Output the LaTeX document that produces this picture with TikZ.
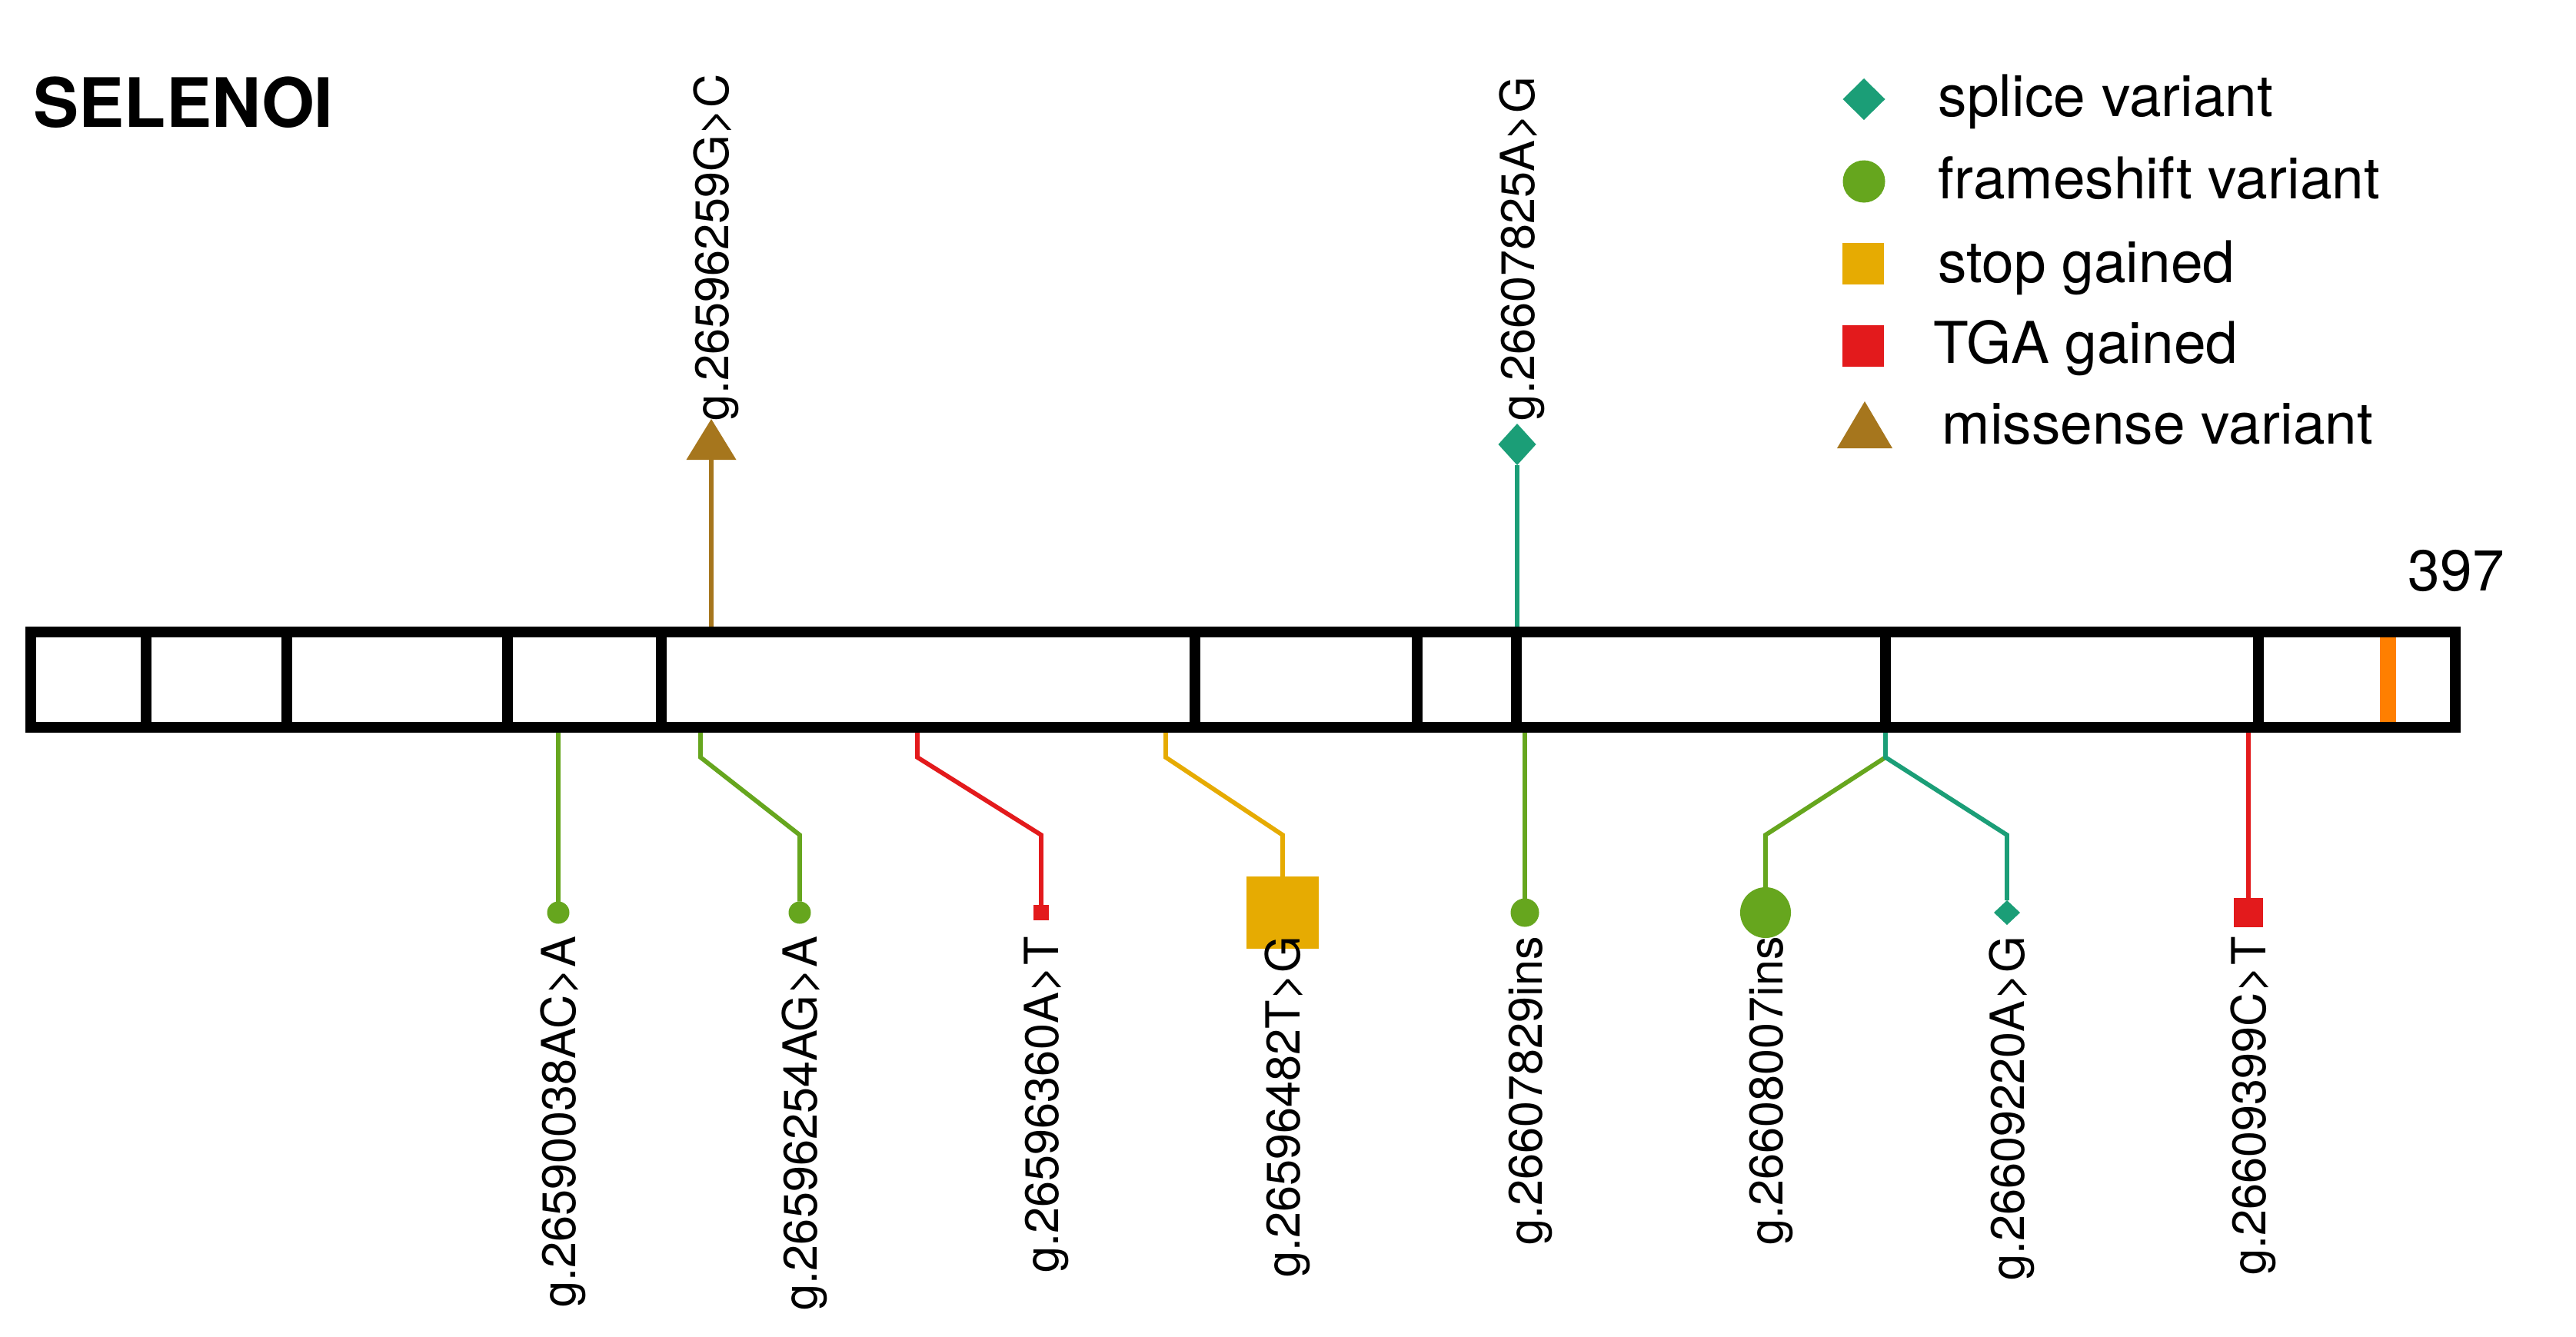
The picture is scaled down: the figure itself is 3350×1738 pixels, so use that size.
\documentclass[tikz,border=0pt]{standalone}
\usepackage{fontspec}
\setmainfont{TeX Gyre Heros}
\usetikzlibrary{shapes.geometric}
\definecolor{splice}{HTML}{1B9E77}
\definecolor{frameshift}{HTML}{66A61E}
\definecolor{stopg}{HTML}{E6AB02}
\definecolor{tga}{HTML}{E31A1C}
\definecolor{missense}{HTML}{A6761D}
\definecolor{domaincol}{HTML}{FF7F00}
\begin{document}
\begin{tikzpicture}[x=0.01cm,y=-0.01cm,
  lbl/.style={rotate=90, inner sep=0pt, outer sep=0pt, font=\fontsize{17.4pt}{20pt}\selectfont},
  toplbl/.style={lbl, anchor=base west},
  botlbl/.style={lbl, anchor=base east},
  legtxt/.style={anchor=base west, inner sep=0pt, font=\fontsize{21.3pt}{25pt}\selectfont},
  stemline/.style={line width=0.058cm},
  dot/.style={circle, inner sep=0pt, outer sep=0pt, fill=frameshift, draw=none},
  sq/.style={rectangle, inner sep=0pt, outer sep=0pt, draw=none},
  dia/.style={diamond, inner sep=0pt, outer sep=0pt, fill=splice, draw=none},
  barline/.style={line width=0.14cm},
]
\useasboundingbox (0,0) rectangle (3350,1738);

% title
\node[anchor=base west, inner sep=0pt, font=\fontsize{25.2pt}{30pt}\selectfont\bfseries] (title) at (43,165) {SELENOI};

% attachment points on bar
\coordinate (t1) at (925,822);
\coordinate (t2) at (1973,822);
\coordinate (b1) at (726,946);
\coordinate (b2) at (911,946);
\coordinate (b3) at (1193,946);
\coordinate (b4) at (1516,946);
\coordinate (b5) at (1983,946);
\coordinate (b6) at (2452,946);
\coordinate (b8) at (2924,946);

% top markers
\coordinate (tri1) at (925,598);
\fill[missense] (892.5,598) -- (957.5,598) -- (925,545) -- cycle;
\node[dia, minimum width=0.49cm, minimum height=0.54cm] (d1) at (1973,578) {};

% bottom markers
\node[dot, minimum size=0.29cm] (m1) at (726,1187) {};
\node[dot, minimum size=0.29cm] (m2) at (1040,1187) {};
\node[sq, fill=tga, minimum size=0.20cm] (m3) at (1354,1187) {};
\node[sq, fill=stopg, minimum size=0.93cm] (m4) at (1668,1187) {};
\node[dot, minimum size=0.37cm] (m5) at (1983,1187) {};
\node[dot, minimum size=0.66cm] (m6) at (2296,1187) {};
\node[dia, minimum width=0.34cm, minimum height=0.32cm] (m7) at (2610,1187) {};
\node[sq, fill=tga, minimum size=0.38cm] (m8) at (2924,1187) {};

% stems
\draw[stemline, missense] (t1) -- (tri1);
\draw[stemline, splice] (t2) -- (d1);
\draw[stemline, frameshift] (b1) -- (m1);
\draw[stemline, frameshift] (b2) -- ++(0,39) -- ++(129,101) -- (m2);
\draw[stemline, tga] (b3) -- ++(0,39) -- ++(161,101) -- (m3);
\draw[stemline, stopg] (b4) -- ++(0,39) -- ++(152,101) -- (m4);
\draw[stemline, frameshift] (b5) -- (m5);
\draw[stemline, frameshift] (b6) -- ++(0,39) -- ++(-156,101) -- (m6);
\draw[stemline, splice] (b6) -- ++(0,39) -- ++(158,101) -- (m7);
\draw[stemline, tga] (b8) -- (m8);

% protein bar
\draw[barline, fill=white] (40,822) rectangle (3193,946);
\foreach \xx in {190,373,660,860,1554,1843,1972,2452,2937}
  \draw[barline] (\xx,822) -- (\xx,946);
\fill[domaincol] (3095,829) rectangle (3116,939);
\node[legtxt] (len) at (3131,768) {397};

% variant labels
\node[toplbl] (L1) at (947,547) {g.26596259G>C};
\node[toplbl] (L2) at (1995,547) {g.26607825A>G};
\node[botlbl] (B1) at (748,1218) {g.26590038AC>A};
\node[botlbl] (B2) at (1062,1218) {g.26596254AG>A};
\node[botlbl] (B3) at (1376,1218) {g.26596360A>T};
\node[botlbl] (B4) at (1690,1218) {g.26596482T>G};
\node[botlbl] (B5) at (2005,1218) {g.26607829ins};
\node[botlbl] (B6) at (2318,1218) {g.26608007ins};
\node[botlbl] (B7) at (2632,1218) {g.26609220A>G};
\node[botlbl] (B8) at (2946,1218) {g.26609399C>T};

% legend
\node[dia, minimum width=0.55cm, minimum height=0.54cm] (k1) at (2424,129) {};
\node[dot, minimum size=0.55cm] (k2) at (2424,236) {};
\node[sq, fill=stopg, minimum size=0.54cm] (k3) at (2423,343) {};
\node[sq, fill=tga, minimum size=0.54cm] (k4) at (2423,450) {};
\fill[missense] (2389,583) -- (2461,583) -- (2425,522) -- cycle;
\node[legtxt] (e1) at (2520,151) {splice variant};
\node[legtxt] (e2) at (2520,258) {frameshift variant};
\node[legtxt] (e3) at (2520,367) {stop gained};
\node[legtxt] (e4) at (2514,472) {TGA gained};
\node[legtxt] (e5) at (2525,577) {missense variant};
\end{tikzpicture}
\end{document}
